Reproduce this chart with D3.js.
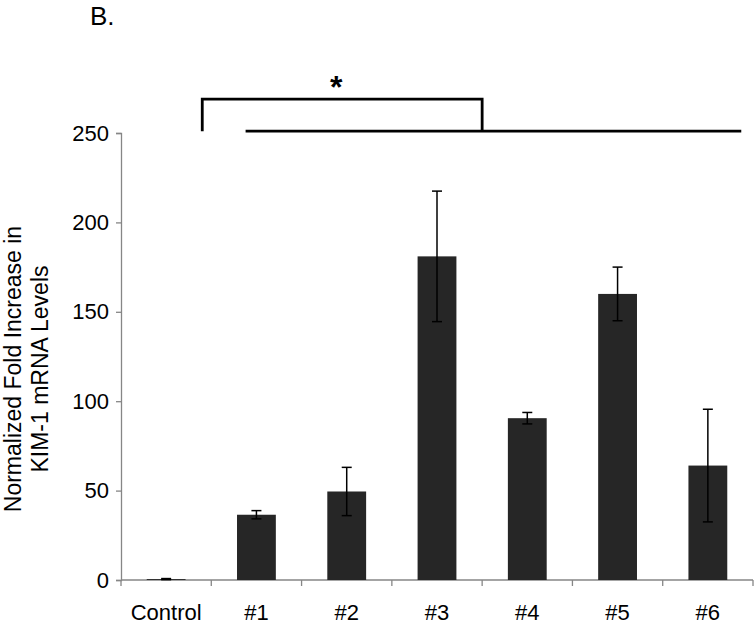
<!DOCTYPE html>
<html>
<head>
<meta charset="utf-8">
<script src="https://cdn.jsdelivr.net/npm/d3@7"></script>
<style>
  html, body { margin: 0; padding: 0; background: #fff; }
  svg { display: block; font-family: "Liberation Sans", Arial, sans-serif; }
</style>
</head>
<body>
<svg id="chart" width="755" height="624"></svg>
<script>
const categories = ["Control", "#1", "#2", "#3", "#4", "#5", "#6"];
const values = [0.5, 36.5, 49.5, 181, 90.5, 160, 64];
const errors = [0.3, 2.3, 13.5, 36.5, 3.2, 15, 31.5];
const yTicks = [0, 50, 100, 150, 200, 250];
const yTitle = ["Normalized Fold Increase in", "KIM-1 mRNA Levels"];
const panelLabel = "B.";
const sigLabel = "*";

const svg = d3.select("#chart");
const margin = { left: 121, right: 2, top: 133, bottom: 44 };
const W = 755, H = 624;

const x = d3.scaleBand().domain(categories)
  .range([margin.left, W - margin.right]).paddingInner(0).paddingOuter(0);
const y = d3.scaleLinear().domain([0, 250]).range([H - margin.bottom, margin.top]);

const barW = x.bandwidth() * 0.43;
const axisColor = "#868686";

// y axis
const yAxis = svg.append("g")
  .attr("transform", `translate(${margin.left},0)`)
  .call(d3.axisLeft(y).tickValues(yTicks).tickSize(5).tickPadding(7));
yAxis.select(".domain").attr("stroke", axisColor).attr("stroke-width", 1.3);
yAxis.selectAll(".tick line").attr("stroke", axisColor).attr("stroke-width", 1.3);
yAxis.selectAll(".tick text").attr("fill", "#000").attr("font-size", 22)
  .attr("font-family", "Liberation Sans, Arial, sans-serif");

// x axis line with boundary ticks
const xAxisG = svg.append("g");
xAxisG.append("line")
  .attr("x1", x.range()[0]).attr("x2", x.range()[1])
  .attr("y1", y(0)).attr("y2", y(0))
  .attr("stroke", axisColor).attr("stroke-width", 1.3);
const boundaries = categories.map(c => x(c)).concat([x.range()[1]]);
xAxisG.selectAll("line.tk").data(boundaries).enter().append("line")
  .attr("class", "tk")
  .attr("x1", d => d).attr("x2", d => d)
  .attr("y1", y(0)).attr("y2", y(0) + 6)
  .attr("stroke", axisColor).attr("stroke-width", 1.3);
xAxisG.selectAll("text").data(categories).enter().append("text")
  .attr("x", d => x(d) + x.bandwidth() / 2)
  .attr("y", y(0) + 40)
  .attr("text-anchor", "middle")
  .attr("font-size", 22)
  .attr("fill", "#000")
  .text(d => d);

// bars
svg.append("g").selectAll("rect").data(categories).enter().append("rect")
  .attr("x", d => x(d) + (x.bandwidth() - barW) / 2)
  .attr("width", barW)
  .attr("y", (d, i) => y(values[i]))
  .attr("height", (d, i) => y(0) - y(values[i]))
  .attr("fill", "#262626");

// error bars
const eg = svg.append("g").attr("stroke", "#000").attr("stroke-width", 1.5);
categories.forEach((c, i) => {
  const cx = x(c) + x.bandwidth() / 2;
  const lo = y(values[i] - errors[i]), hi = y(values[i] + errors[i]);
  eg.append("line").attr("x1", cx).attr("x2", cx).attr("y1", lo).attr("y2", hi);
  eg.append("line").attr("x1", cx - 5).attr("x2", cx + 5).attr("y1", hi).attr("y2", hi);
  eg.append("line").attr("x1", cx - 5).attr("x2", cx + 5).attr("y1", lo).attr("y2", lo);
});

// significance bracket (positions derived from scales)
const bw = x.bandwidth();
const bTop = y(269), bBot = y(251);
const bLeft = x("Control") + bw * 0.9;
const bRight = x("#4");
const lineStart = x("#1") + bw * 0.38;
const lineEnd = x("#6") + bw * 0.87;
const bg = svg.append("g").attr("stroke", "#000").attr("stroke-width", 2.8).attr("fill", "none");
bg.append("path").attr("d", `M${bLeft},${bBot}V${bTop}H${bRight}V${bBot}`);
bg.append("line").attr("x1", lineStart).attr("x2", lineEnd).attr("y1", bBot).attr("y2", bBot);
svg.append("text")
  .attr("x", (bLeft + bRight) / 2 - 6).attr("y", y(269) - 1)
  .attr("text-anchor", "middle").attr("font-size", 32).attr("font-weight", "bold")
  .text(sigLabel);

// panel label
svg.append("text").attr("x", 90).attr("y", 25).attr("font-size", 26).text(panelLabel);

// y title
const yt = svg.append("text")
  .attr("transform", `translate(0,${y(118)}) rotate(-90)`)
  .attr("text-anchor", "middle").attr("font-size", 23).attr("fill", "#000");
yTitle.forEach((t, i) => {
  yt.append("tspan").attr("x", 0).attr("y", 21 + i * 27).text(t);
});
</script>
</body>
</html>
